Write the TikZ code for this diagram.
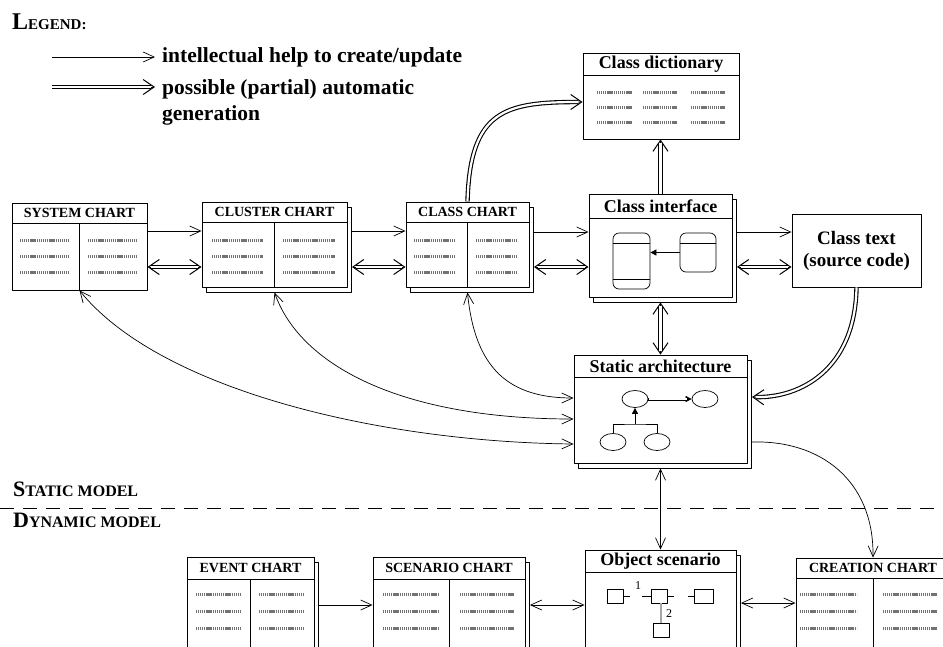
\documentclass[tikz,border=0pt]{standalone}
\usepackage{fontspec}
\setmainfont{Liberation Serif}
\usetikzlibrary{arrows.meta,shadows,positioning,calc,shapes.geometric}
\newcommand\capsc[4]{{\fontsize{#1}{#1}\selectfont #3}{\fontsize{#2}{#2}\selectfont #4}}
\tikzset{
  box/.style={draw, fill=white, line width=0.9pt, inner sep=0pt},
  stack/.style={box, copy shadow={shadow xshift=4.5pt, shadow yshift=-5pt}},
  band/.style={draw, line width=0.9pt, inner sep=0pt, anchor=north, font=\fontsize{14}{14}\bfseries},
  help/.style={line width=0.7pt, -{Straight Barb[length=11pt,width=10pt]}},
  helps/.style={line width=0.7pt, {Straight Barb[length=11pt,width=10pt]}-{Straight Barb[length=11pt,width=10pt]}},
  douter/.style={line width=4.4pt},
  dinner/.style={white, line width=2.2pt},
  dtip/.style={line width=1pt},
  gto/.style={-{Straight Barb[length=11pt,width=15pt]}},
  gboth/.style={{Straight Barb[length=11pt,width=15pt]}-{Straight Barb[length=11pt,width=15pt]}},
  s1/.style={shorten >=4pt},
  s2/.style={shorten >=4pt, shorten <=4pt},
  scrib/.style={black!55, line width=3pt, dash pattern=on 1.2pt off 0.7pt},
  legtext/.style={font=\fontsize{21.5}{26}\bfseries, inner sep=0pt},
  inbox/.style={draw, line width=0.7pt, rounded corners=6pt, inner sep=0pt},
  oval/.style={draw, line width=0.7pt, ellipse, inner sep=0pt, minimum width=26pt, minimum height=17pt},
  sq/.style={draw, line width=0.7pt, inner sep=0pt, minimum width=16pt, minimum height=14pt},
}
% open tip on a thin line, double line laid over it
\newcommand\gen[3][s1]{\draw[dtip,#2] #3; \draw[douter,#1] #3; \draw[dinner,#1] #3;}
\begin{document}
\begin{tikzpicture}[x=1pt, y=-1pt, line join=round]
\clip (0,0) rectangle (943,646);
% legend
\node[anchor=base west, font=\bfseries, inner sep=0pt] (lgd) at (12,29) {\capsc{24}{15}{L}{EGEND:}};
\coordinate (l1a) at (52,57); \coordinate (l1b) at (155,57);
\draw[help] (l1a) -- (l1b);
\node[legtext, anchor=west] (l1t) at (162,57) {intellectual help to create/update};
\coordinate (l2a) at (52,87); \coordinate (l2b) at (155,87);
\gen{gto}{(l2a) -- (l2b)}
\node[legtext, anchor=north west, align=left] (l2t) at (162,79) {possible (partial) automatic\\generation};
% static model
\node[box, minimum width=135pt, minimum height=87pt] (sys) at (79.5,246.5) {};
\node[band, minimum width=135pt, minimum height=20pt] (sysT) at (sys.north) {SYSTEM CHART};
\draw[line width=0.9pt] (sysT.south) -- (sys.south);
\node[stack, minimum width=145pt, minimum height=85pt] (clu) at (274.5,244.5) {};
\node[band, minimum width=145pt, minimum height=20pt] (cluT) at (clu.north) {CLUSTER CHART};
\draw[line width=0.9pt] (cluT.south) -- (clu.south);
\node[stack, minimum width=123pt, minimum height=85pt] (cls) at (467.5,244.5) {};
\node[band, minimum width=123pt, minimum height=20pt] (clsT) at (cls.north) {CLASS CHART};
\draw[line width=0.9pt] (clsT.south) -- (cls.south);
\node[stack, minimum width=143pt, minimum height=103pt] (ifc) at (660.5,245.5) {};
\node[band, minimum width=143pt, minimum height=24pt, font=\fontsize{18}{18}\bfseries] (ifcT) at (ifc.north) {Class interface};
\node[box, minimum width=129pt, minimum height=73pt, align=center, font=\fontsize{19}{22}\bfseries] (txt) at (856.5,250.5) {Class text\\(source code)};
\node[box, minimum width=156pt, minimum height=86pt] (dic) at (661,96) {};
\node[band, minimum width=156pt, minimum height=22pt, font=\fontsize{18}{18}\bfseries] (dicT) at (dic.north) {Class dictionary};
\node[stack, minimum width=173pt, minimum height=108pt] (arc) at (660.5,409) {};
\node[band, minimum width=173pt, minimum height=22pt, font=\fontsize{18}{18}\bfseries] (arcT) at (arc.north) {Static architecture};
% scribbles
\foreach \y in {240,256,272}{
  \foreach \xa/\xb in {20/68,88/137,212/263,283/335,414/455,476/517}
    \draw[scrib] (\xa,\y) -- (\xb,\y);
}
\foreach \y in {92,107,122}{
  \foreach \xa/\xb in {597/632,643/677,691/725}
    \draw[scrib] (\xa,\y) -- (\xb,\y);
}
% class interface inside
\node[inbox, minimum width=37pt, minimum height=56pt] (ifcA) at (631.5,261) {};
\draw[line width=0.7pt] ([yshift=-11pt]ifcA.north west) -- ([yshift=-11pt]ifcA.north east);
\draw[line width=0.7pt] ([yshift=10pt]ifcA.south west) -- ([yshift=10pt]ifcA.south east);
\node[inbox, minimum width=36pt, minimum height=39pt] (ifcB) at (698,252.5) {};
\draw[line width=0.7pt] ([yshift=-11pt]ifcB.north west) -- ([yshift=-11pt]ifcB.north east);
\draw[line width=0.7pt, -{Triangle[length=6pt,width=6pt]}] (ifcB.west) -- (ifcB.west -| ifcA.east);
% static architecture inside
\node[oval] (e1) at (635,399) {};
\node[oval] (e2) at (705,399) {};
\node[oval] (e3) at (613,442) {};
\node[oval] (e4) at (657,442) {};
\draw[line width=0.6pt, -{Triangle[length=6pt,width=6pt]}] (e1.east) -- (e2.west);
\draw[line width=3pt, shorten >=5pt] (e1.east) -- (e2.west);
\draw[white, line width=1.6pt, shorten >=5pt, shorten <=0.6pt] (e1.east) -- (e2.west);
\coordinate (fork) at (e1.south |- 0,424);
\draw[line width=0.7pt, -{Triangle[length=6pt,width=6pt]}] (fork) -- (e1.south);
\draw[line width=0.7pt] (e3.north) |- (fork) -| (e4.north);
% static connectors
\draw[help] (sys.east |- 0,231) -- (clu.west |- 0,231);
\draw[help] ([xshift=4.5pt]clu.east |- 0,231) -- (cls.west |- 0,231);
\draw[help] ([xshift=4.5pt]cls.east |- 0,232) -- (ifc.west |- 0,232);
\draw[help] ([xshift=4.5pt]ifc.east |- 0,232) -- (txt.west |- 0,232);
\gen[s2]{gboth}{(sys.east |- 0,267) -- (clu.west |- 0,267)}
\gen[s2]{gboth}{([xshift=4.5pt]clu.east |- 0,267) -- (cls.west |- 0,267)}
\gen[s2]{gboth}{([xshift=4.5pt]cls.east |- 0,267) -- (ifc.west |- 0,267)}
\gen[s2]{gboth}{([xshift=4.5pt]ifc.east |- 0,267) -- (txt.west |- 0,267)}
\gen{gto}{(ifc.north) -- (ifc.north |- dic.south)}
\gen[s2]{gboth}{([yshift=-5pt]ifc.south) -- (arc.north)}
\gen{gto}{(cls.north) .. controls (470,110) and (505,102) .. (dic.west |- 0,102)}
\gen{gto}{(txt.south) .. controls (855,370) and (800,398) .. ([xshift=4.5pt]arc.east |- 0,397)}
\draw[helps] (sys.south) .. controls (160,390) and (380,442) .. (arc.west |- 0,444);
\draw[helps] ([yshift=-5pt]clu.south) .. controls (300,365) and (400,419) .. (arc.west |- 0,419);
\draw[helps] ([yshift=-5pt]cls.south) .. controls (475,370) and (510,398) .. (arc.west |- 0,398);
% model separator
\node[anchor=base west, font=\bfseries, inner sep=0pt] (stat) at (13,496) {\capsc{22}{16}{S}{TATIC MODEL}};
\draw[line width=0.8pt, dash pattern=on 14pt off 9pt] (0,508) -- (943,508);
\node[anchor=base west, font=\bfseries, inner sep=0pt] (dyn) at (13,527) {\capsc{22}{16}{D}{YNAMIC MODEL}};
% dynamic model
\node[stack, minimum width=127pt, minimum height=120pt] (evt) at (250.5,617) {};
\node[band, minimum width=127pt, minimum height=22pt] (evtT) at (evt.north) {EVENT CHART};
\draw[line width=0.9pt] (evtT.south) -- (evt.south);
\node[stack, minimum width=152pt, minimum height=120pt] (scn) at (449,617) {};
\node[band, minimum width=152pt, minimum height=22pt] (scnT) at (scn.north) {SCENARIO CHART};
\draw[line width=0.9pt] (scnT.south) -- (scn.south);
\node[stack, minimum width=151pt, minimum height=120pt] (obj) at (660.5,610) {};
\node[band, minimum width=151pt, minimum height=22pt, font=\fontsize{18}{18}\bfseries] (objT) at (obj.north) {Object scenario};
\node[stack, minimum width=154pt, minimum height=120pt] (cre) at (873,618) {};
\node[band, minimum width=154pt, minimum height=20pt] (creT) at (cre.north) {CREATION CHART};
\draw[line width=0.9pt] (creT.south) -- (cre.south);
\foreach \y in {594,611,628}{
  \foreach \xa/\xb in {196/241,259/303,383/439,460/515,800/857,883/937}
    \draw[scrib] (\xa,\y) -- (\xb,\y);
}
% object scenario inside
\node[sq] (q1) at (615,596) {};
\node[sq] (q2) at (659.5,596) {};
\node[sq, minimum width=19pt] (q3) at (703.5,596) {};
\node[sq] (q4) at (661,630.5) {};
\draw[line width=0.7pt] (q1.east) -- ++(7,0);
\draw[line width=0.7pt] (q2.west) -- ++(-9,0);
\draw[line width=0.7pt] (q2.east) -- ++(6,0);
\draw[line width=0.7pt] (q3.west) -- ++(-6,0);
\node[font=\fontsize{12}{12}\selectfont, inner sep=0pt] (n1) at (638,586) {1};
\draw[black!35, line width=1.5pt] (q2.south -| q4.north) -- (q4.north);
\node[font=\fontsize{12}{12}\selectfont, inner sep=0pt] (n2) at (669,614) {2};
% dynamic connectors
\draw[help] ([xshift=4.5pt]evt.east |- 0,605) -- (scn.west |- 0,605);
\draw[helps] ([xshift=4.5pt]scn.east |- 0,605) -- (obj.west |- 0,605);
\draw[helps] ([xshift=4.5pt]obj.east |- 0,603) -- (cre.west |- 0,603);
\draw[helps] ([yshift=-5pt]arc.south) -- (obj.north);
\draw[help] ([xshift=4.5pt]arc.east |- 0,442) .. controls (820,440) and (874,480) .. (cre.north);
\end{tikzpicture}
\end{document}
